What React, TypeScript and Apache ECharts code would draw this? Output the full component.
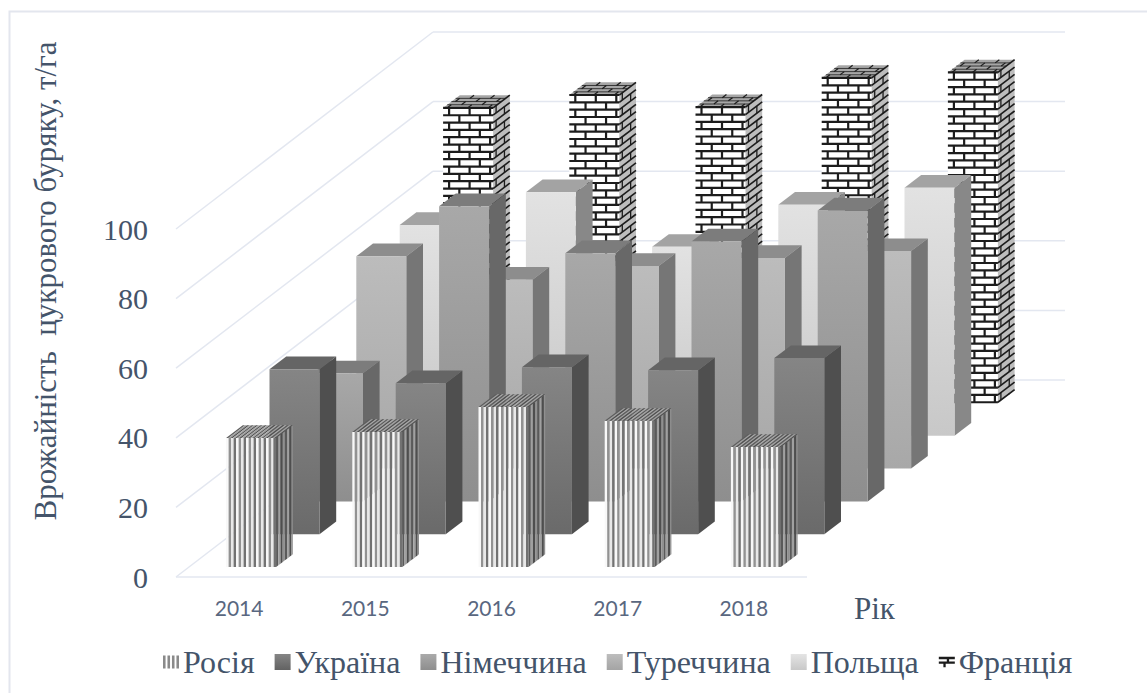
import React, { useEffect, useRef } from "react";
import * as echarts from "echarts";

const years = ["2014", "2015", "2016", "2017", "2018"];
const russia = [37.1, 38.8, 46, 42, 34.5];
const ukraine = [47.4, 43.4, 48, 47.1, 50.6];
const germany = [36.8, 84.8, 71.3, 74.7, 83.6];
const turkey = [61, 54.3, 58.2, 60.5, 62.5];
const poland = [60.6, 70, 54.3, 66.4, 71.3];
const france = [84.8, 88.5, 85, 93.4, 95];
const yTicks = [0, 20, 40, 60, 80, 100];
const seriesNames = ["Росія", "Україна", "Німеччина", "Туреччина", "Польща", "Франція"];

const TEXT = "#44546a";
const GRID = "#e3e7f0";
const SERIF = "'Liberation Serif', serif";
const W = 50, DX = 16.7, DY = -12.7;
const SLOT_DX = 43.4, SLOT_DY = -32.8, X0 = -13, Y0 = -10;

const grad = (a: string, b: string) =>
  new echarts.graphic.LinearGradient(0, 0, 0, 1, [
    { offset: 0, color: a },
    { offset: 1, color: b },
  ]);

const poly = (pts: number[][], fill: any) => ({
  type: "polygon",
  shape: { points: pts },
  style: { fill, stroke: null },
});
const seg = (a: number[], b: number[], stroke: string, lineWidth: number) => ({
  type: "line",
  shape: { x1: a[0], y1: a[1], x2: b[0], y2: b[1] },
  style: { stroke, lineWidth },
});

type Face = { o: number[]; u: number[]; v: number[]; w: number; h: number };
const pt = (f: Face, a: number, b: number) => [
  f.o[0] + (f.u[0] * a) / f.w + (f.v[0] * b) / f.h,
  f.o[1] + (f.u[1] * a) / f.w + (f.v[1] * b) / f.h,
];
const quad = (f: Face, fill: any) =>
  poly([pt(f, 0, 0), pt(f, f.w, 0), pt(f, f.w, f.h), pt(f, 0, f.h)], fill);

function stripes(f: Face, period: number, colors: string[]) {
  const out: any[] = [];
  const sw = period / 2;
  let i = 0;
  for (let a = 0; a < f.w - 0.01; a += sw, i++) {
    const e = Math.min(a + sw, f.w);
    out.push(poly([pt(f, a, 0), pt(f, e, 0), pt(f, e, f.h), pt(f, a, f.h)], colors[i % colors.length]));
  }
  return out;
}

function bricks(f: Face, rowH: number, period: number, lw: number, lwV: number, shift: number) {
  const out: any[] = [];
  let row = 0;
  for (let b = 0; b < f.h; b += rowH, row++) {
    const e = Math.min(b + rowH, f.h);
    if (b > 0 || lw > 1) out.push(seg(pt(f, 0, b), pt(f, f.w, b), "#1c1c1c", lw));
    const off = row % 2 ? period / 2 : 0;
    for (let a = off + shift; a < f.w; a += period) {
      out.push(seg(pt(f, a, b), pt(f, a, e), "#1c1c1c", lwV));
    }
  }
  return out;
}

const solid: Record<number, { top: string; side: string; a: string; b: string }> = {
  1: { top: "#656565", side: "#4f4f4f", a: "#858585", b: "#6a6a6a" },
  2: { top: "#7c7c7c", side: "#686868", a: "#a8a8a8", b: "#8e8e8e" },
  3: { top: "#8d8d8d", side: "#767676", a: "#bcbcbc", b: "#a8a8a8" },
  4: { top: "#a3a3a3", side: "#888888", a: "#e2e2e2", b: "#c8c8c8" },
};

function makeBar(slot: number) {
  return (_: any, api: any) => {
    const i = api.value(0);
    const base = api.coord([i, 0]);
    const top = api.coord([i, api.value(1)]);
    const x = base[0] + X0 + slot * SLOT_DX;
    const shiftY = Y0 + slot * SLOT_DY;
    const yB = base[1] + shiftY;
    const yT = top[1] + shiftY;
    const h = yB - yT;
    const front: Face = { o: [x, yT], u: [W, 0], v: [0, h], w: W, h };
    const side: Face = { o: [x + W, yT], u: [DX, DY], v: [0, h], w: DX, h };
    const lid: Face = { o: [x, yT], u: [W, 0], v: [DX, DY], w: W, h: 16 };
    let children: any[] = [];
    if (slot === 0) {
      children = [
        ...stripes(front, 5, ["#f8f8f8", "#929292", "#e8e8e8", "#727272"]),
        ...stripes(side, 4.4, ["#5a5a5a", "#a0a0a0", "#4e4e4e", "#909090"]),
        ...stripes(lid, 4.4, ["#5e5e5e", "#a0a0a0", "#505050", "#aaaaaa"]),
      ];
    } else if (slot === 5) {
      children = [
        quad(front, "#ffffff"),
        quad(side, "#bdbdbd"),
        quad(lid, "#a6a6a6"),
        ...bricks(front, 7.33, 20.5, 2.2, 2.2, 6),
        ...bricks(side, 7.33, 16.7, 1.6, 1.3, 3),
        ...bricks(lid, 4, 20.5, 0.8, 1.2, 4),
      ];
    } else {
      const c = solid[slot];
      children = [quad(lid, c.top), quad(side, c.side), quad(front, grad(c.a, c.b))];
    }
    return { type: "group", children };
  };
}

const wallsRender = (_: any, api: any) => {
  const v = api.value(1);
  const p = api.coord([0, v]);
  const left = p[0] - api.size([1, 0])[0] / 2;
  const y = p[1];
  const bx = left + 257;
  const by = y - 197;
  const children: any[] = [seg([left, y], [bx, by], GRID, 1.5)];
  children.push(seg([bx, by], [bx + 632, by], GRID, 1.5));
  if (v === 0) children.push(seg([left, y], [left + api.size([1, 0])[0] * 5, y], GRID, 1.5));
  return { type: "group", children };
};

const legendIcons: any[] = [
  { icon: "path://M0 0h2v10H0z M3.5 0h2v10h-2z M7 0h2v10H7z M10.5 0h2v10h-2z", itemStyle: { color: "#8a8a8a" } },
  { icon: "rect", itemStyle: { color: grad("#858585", "#626262") } },
  { icon: "rect", itemStyle: { color: grad("#aaaaaa", "#8e8e8e") } },
  { icon: "rect", itemStyle: { color: grad("#bdbdbd", "#a4a4a4") } },
  { icon: "rect", itemStyle: { color: grad("#e4e4e4", "#c8c8c8") } },
  { icon: "path://M0 2h14v2H9v2h5v2H6v3H4V8H0V6h7V4H0z", itemStyle: { color: "#1c1c1c" } },
];

export default function App() {
  const ref = useRef<HTMLDivElement>(null);
  useEffect(() => {
    const chart = echarts.init(ref.current!, null, { renderer: "svg" });
    const lists = [russia, ukraine, germany, turkey, poland, france];
    chart.setOption({
      animation: false,
      backgroundColor: "#ffffff",
      grid: { left: 176, top: 229, width: 631, height: 348 },
      xAxis: {
        type: "category",
        data: years,
        axisLine: { show: false },
        axisTick: { show: false },
        axisLabel: { color: "#596780", fontFamily: "Lato", fontSize: 21, margin: 20 },
      },
      yAxis: {
        type: "value",
        min: 0,
        max: 100,
        interval: 20,
        splitLine: { show: false },
        axisLine: { show: false },
        axisTick: { show: false },
        axisLabel: { color: TEXT, fontFamily: SERIF, fontSize: 30, margin: 28, padding: [0, 0, 4, 0] },
      },
      legend: {
        left: 158,
        top: 641,
        itemWidth: 16,
        itemHeight: 16,
        itemGap: 20,
        textStyle: { color: TEXT, fontFamily: SERIF, fontSize: 32, padding: [0, 0, 0, -1] },
        data: seriesNames.map((name, i) => ({ name, ...legendIcons[i] })),
      },
      graphic: [
        {
          type: "polyline",
          shape: { points: [[9.5, 693], [9.5, 11.5], [1147, 11.5]] },
          style: { fill: "none", stroke: "#e3e6ee", lineWidth: 2 },
          silent: true,
          z: -10,
        },
        {
          type: "text",
          x: 45,
          y: 281,
          rotation: Math.PI / 2,
          style: {
            text: "Врожайність  цукрового буряку, т/га",
            fill: TEXT,
            font: `31px ${SERIF}`,
            align: "center",
            verticalAlign: "middle",
          },
        },
        {
          type: "text",
          x: 854,
          y: 608,
          style: {
            text: "Рік",
            fill: TEXT,
            font: `31px ${SERIF}`,
            align: "left",
            verticalAlign: "middle",
          },
        },
      ],
      series: [
        {
          type: "custom",
          name: "walls",
          coordinateSystem: "cartesian2d",
          renderItem: wallsRender,
          data: yTicks.map((v) => [0, v]),
          silent: true,
          z: 0,
        },
        ...seriesNames.map((name, s) => ({
          type: "custom",
          name,
          coordinateSystem: "cartesian2d",
          renderItem: makeBar(s),
          data: lists[s].map((v, i) => [i, v]),
          silent: true,
          z: 10 - s,
        })),
      ],
    });
    return () => chart.dispose();
  }, []);
  return <div ref={ref} style={{ position: "fixed", left: 0, top: 0, width: 1147, height: 693 }} />;
}
